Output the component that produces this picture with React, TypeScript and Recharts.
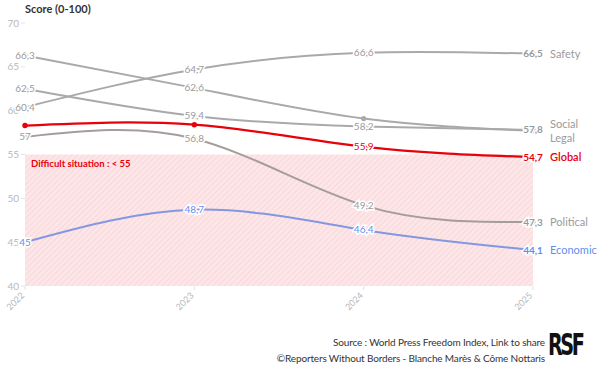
import React from "react";
import {
  LineChart,
  Line,
  XAxis,
  YAxis,
  ReferenceArea,
  LabelList,
} from "recharts";

const years = ["2022", "2023", "2024", "2025"];
const safety = [60.4, 64.7, 66.6, 66.5];
const social = [66.3, 62.6, 59.1, 57.7];
const legal = [62.5, 59.4, 58.2, 57.8];
const globalScore = [58.3, 58.4, 55.9, 54.7];
const political = [57, 56.8, 49.2, 47.3];
const economic = [45, 48.7, 46.4, 44.1];
const yTicks = [40, 45, 50, 55, 60, 65, 70];

const data = years.map((year, i) => ({
  year,
  safety: safety[i],
  social: social[i],
  legal: legal[i],
  global: globalScore[i],
  political: political[i],
  economic: economic[i],
}));

const FONT = "Lato, 'Open Sans', sans-serif";
const GRAY = "#a9a9ab";

type SeriesDef = {
  key: string;
  name: string;
  color: string;
  textColor: string;
  hide: number[];
  nameDy: number;
  showEndValue: boolean;
};

const series: SeriesDef[] = [
  { key: "safety", name: "Safety", color: GRAY, textColor: "#9a9a9c", hide: [], nameDy: 0, showEndValue: true },
  { key: "social", name: "Social", color: GRAY, textColor: "#9a9a9c", hide: [2, 3], nameDy: -7, showEndValue: false },
  { key: "legal", name: "Legal", color: GRAY, textColor: "#9a9a9c", hide: [], nameDy: 8, showEndValue: true },
  { key: "global", name: "Global", color: "#e8000b", textColor: "#e8000b", hide: [0, 1], nameDy: 0, showEndValue: true },
  { key: "political", name: "Political", color: "#a59c9c", textColor: "#9a9a9c", hide: [], nameDy: 0, showEndValue: true },
  { key: "economic", name: "Economic", color: "#8497e0", textColor: "#5f8ff0", hide: [], nameDy: 0, showEndValue: true },
];

const fmt = (v: number) => String(v).replace(".", ",");

const makeLabel = (s: SeriesDef) => (props: any) => {
  const { x, y, value, index } = props;
  const last = index === years.length - 1;
  const out: React.ReactNode[] = [];
  if (!s.hide.includes(index) && (!last || s.showEndValue)) {
    out.push(
      <text
        key="v"
        x={x}
        y={y}
        dy={3.5}
        textAnchor="middle"
        fontFamily={FONT}
        fontSize={10}
        fontWeight={last ? 700 : 400}
        fill={s.textColor}
        stroke="#fff"
        strokeWidth={3}
        paintOrder="stroke"
      >
        {fmt(value)}
      </text>
    );
  }
  if (last) {
    out.push(
      <text
        key="n"
        x={x + 17}
        y={y + s.nameDy}
        dy={4}
        textAnchor="start"
        fontFamily={FONT}
        fontSize={11}
        fill={s.key === "global" ? "#e8000b" : s.textColor}
        fontWeight={s.key === "global" ? 600 : 400}
      >
        {s.name}
      </text>
    );
  }
  return <g>{out}</g>;
};

const XTick = (props: any) => {
  const { x, y, payload } = props;
  return (
    <text
      x={x}
      y={y + 4}
      transform={`rotate(-45 ${x} ${y + 4})`}
      textAnchor="end"
      fontFamily={FONT}
      fontSize={9}
      fill="#b8b8b8"
    >
      {payload.value}
    </text>
  );
};

export default function App() {
  return (
    <div
      style={{
        position: "absolute",
        left: 0,
        top: 0,
        width: 605,
        height: 383,
        background: "#fff",
        fontFamily: FONT,
      }}
    >
      <div
        style={{
          position: "absolute",
          left: 25,
          top: 2,
          fontSize: 11,
          fontWeight: 700,
          color: "#333",
        }}
      >
        Score (0-100)
      </div>
      <LineChart
        width={605}
        height={320}
        data={data}
        margin={{ top: 23, right: 72, bottom: 0, left: 0 }}
      >
        <defs>
          <pattern
            id="hatch"
            patternUnits="userSpaceOnUse"
            width={4}
            height={4}
            patternTransform="rotate(45)"
          >
            <rect width={4} height={4} fill="#fde6e8" />
            <line x1={0} y1={0} x2={0} y2={4} stroke="#f8d2d6" strokeWidth={1.5} />
          </pattern>
        </defs>
        <XAxis
          dataKey="year"
          height={34}
          axisLine={false}
          tickLine={{ stroke: "#e4e4e4" }}
          tickSize={4}
          tick={<XTick />}
          interval={0}
        />
        <YAxis
          width={25}
          domain={[40, 70]}
          ticks={yTicks}
          axisLine={false}
          tickLine={{ stroke: "#e4e4e4" }}
          tickSize={4}
          tick={{ fontSize: 10, fill: "#b8b8b8", fontFamily: FONT }}
        />
        <ReferenceArea
          y1={40}
          y2={55}
          fill="url(#hatch)"
          fillOpacity={1}
          stroke="none"
          label={{
            value: "Difficult situation : < 55",
            position: "insideTopLeft",
            offset: 6,
            fill: "#e8000b",
            fontSize: 9.5,
            fontWeight: 700,
            fontFamily: FONT,
          }}
        />
        {series.map((s) => (
          <Line
            key={s.key}
            dataKey={s.key}
            type="natural"
            stroke={s.color}
            strokeWidth={s.key === "global" ? 2.2 : 2}
            dot={{ r: 1.6, fill: s.color, stroke: s.color }}
            isAnimationActive={false}
          >
            <LabelList dataKey={s.key} content={makeLabel(s)} />
          </Line>
        ))}
      </LineChart>
      <div
        style={{
          position: "absolute",
          right: 60,
          top: 334,
          textAlign: "right",
          fontSize: 10,
          lineHeight: "16px",
          color: "#333",
          letterSpacing: -0.15,
        }}
      >
        <div>Source : World Press Freedom Index, Link to share</div>
        <div>©Reporters Without Borders - Blanche Marès &amp; Côme Nottaris</div>
      </div>
      <div
        style={{
          position: "absolute",
          left: 548,
          top: 326,
          fontSize: 31,
          fontWeight: 900,
          color: "#111",
          letterSpacing: -4,
          fontFamily: "'DejaVu Sans', sans-serif",
          transform: "scaleX(0.62)",
          transformOrigin: "left",
        }}
      >
        RSF
      </div>
    </div>
  );
}
